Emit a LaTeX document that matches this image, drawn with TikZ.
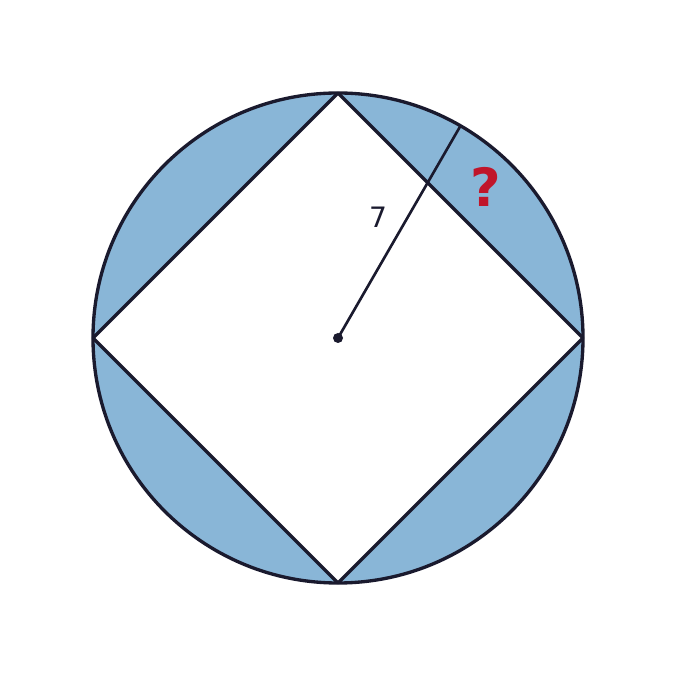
\documentclass[tikz,border=0pt]{standalone}
\usepackage{fontspec}
\setmainfont{DejaVu Sans}
\definecolor{segblue}{HTML}{89B6D7}
\definecolor{inkdark}{HTML}{1A1A2E}
\definecolor{askred}{HTML}{C0152A}
\begin{document}
\begin{tikzpicture}

    \tikzset{
      edge/.style={
        color=inkdark,
        line width=1.9pt,
        line join=round,
      },
      radius line/.style={
        color=inkdark,
        line width=1.5pt,
      },
    }
    \useasboundingbox (-6.76,-6.76) rectangle (6.76,6.76);
    % shaded circle, white square on top
    \fill [segblue] (0,0) circle (4.9);
    \coordinate (T) at (0,4.9);
    \coordinate (R) at (4.9,0);
    \coordinate (B) at (0,-4.9);
    \coordinate (L) at (-4.9,0);
    \fill [white] (T)--(R)--(B)--(L)--cycle;
    \draw [edge] (T)--(R)--(B)--(L)--cycle;
    \draw [edge] (0,0) circle (4.9);
    % radius
    \coordinate (O) at (0,0);
    \coordinate (P) at (60:4.9);
    \draw [radius line] (O)--(P);
    \fill [inkdark] (O) circle (0.1);
	\node [color=inkdark, font=\fontsize{16}{16}\selectfont] (seven) at (0.8,2.42) {7};
	\node [color=askred, font=\fontsize{30}{30}\selectfont\bfseries] (ask) at (2.96,3.02) {?};

\end{tikzpicture}
\end{document}
